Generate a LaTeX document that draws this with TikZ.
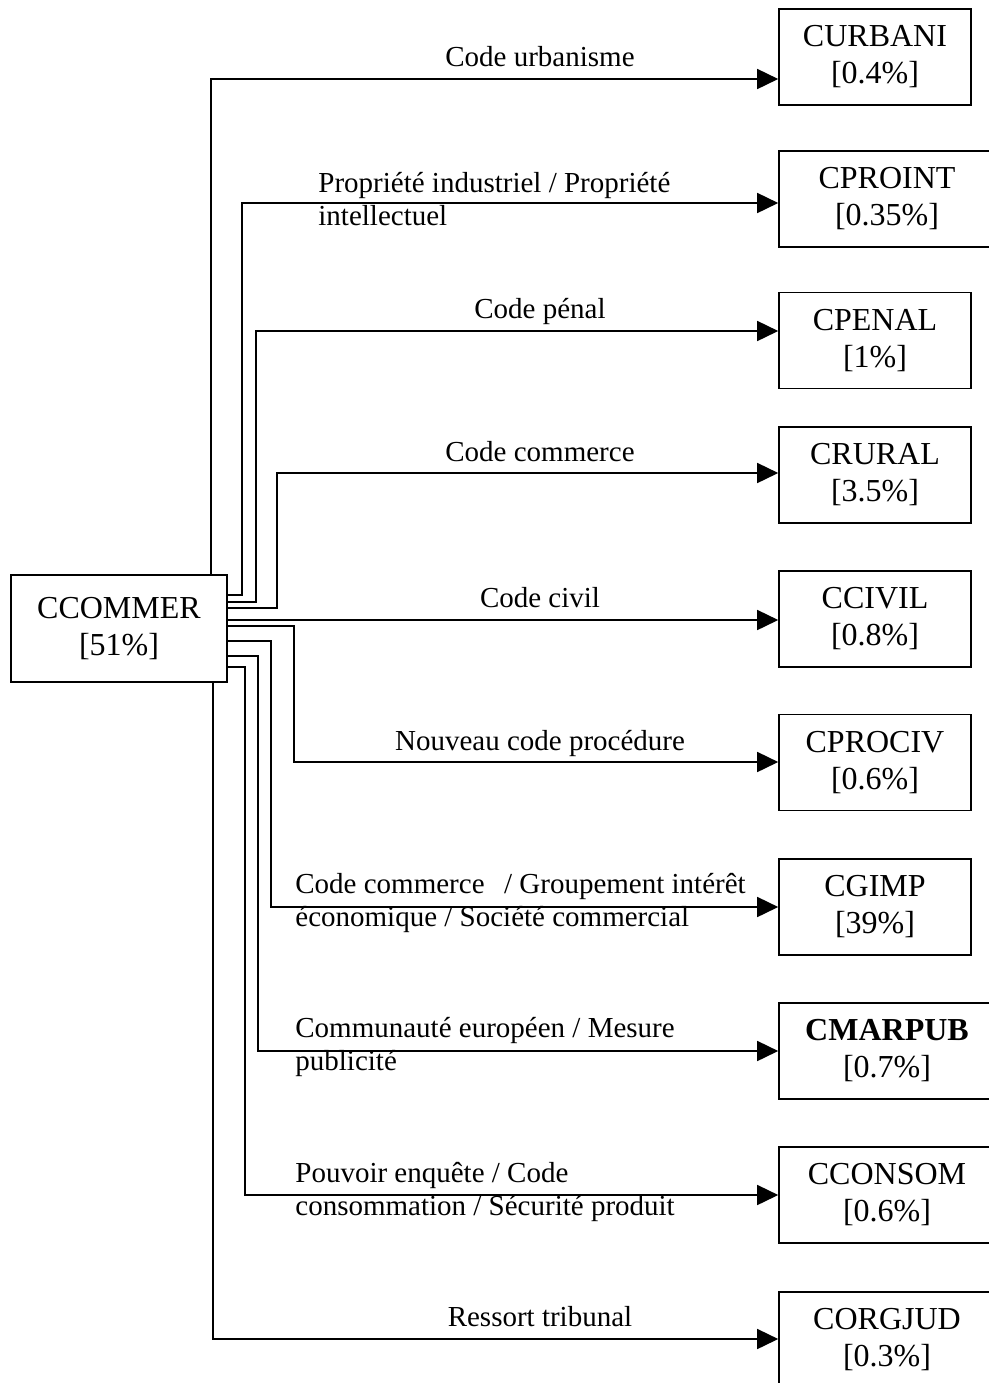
\documentclass[tikz,border=0pt]{standalone}
\usepackage{fontspec}
\setmainfont{Liberation Serif}
\usetikzlibrary{arrows.meta}

\newcommand\boxfont{\fontsize{16}{18.5}\selectfont}
\newcommand\labfont{\fontsize{14.5}{16.5}\selectfont}

\tikzset{
  codebox/.style={draw,line width=0.8pt,inner sep=0pt,align=center,
    minimum width=96pt,minimum height=48pt,font=\boxfont},
  widebox/.style={codebox,minimum width=108pt},
  lab/.style={inner sep=0pt,font=\labfont},
  link/.style={->,line width=0.8pt},
}

\begin{document}
\begin{tikzpicture}[x=0.5pt,y=-0.5pt,>={Triangle[length=10.5pt,width=10pt]}]
\fill[white] (0,0) rectangle (989,1383);
\useasboundingbox (0,0) rectangle (989,1383);
\clip (0,0) rectangle (989,1383);

% source code
\node[codebox,minimum width=108pt,minimum height=53.5pt] (CCOMMER) at (119,628.5) {CCOMMER\\{[51\%]}};

% target codes
\node[codebox] (CURBANI) at (875,57) {CURBANI\\{[0.4\%]}};
\node[widebox] (CPROINT) at (887,199) {CPROINT\\{[0.35\%]}};
\node[codebox] (CPENAL) at (875,340.5) {CPENAL\\{[1\%]}};
\node[codebox] (CRURAL) at (875,475) {CRURAL\\{[3.5\%]}};
\node[codebox] (CCIVIL) at (875,619) {CCIVIL\\{[0.8\%]}};
\node[codebox] (CPROCIV) at (875,762.5) {CPROCIV\\{[0.6\%]}};
\node[codebox] (CGIMP) at (875,907) {CGIMP\\{[39\%]}};
\node[widebox] (CMARPUB) at (887,1051) {\textbf{CMARPUB}\\{[0.7\%]}};
\node[widebox] (CCONSOM) at (887,1195) {CCONSOM\\{[0.6\%]}};
\node[widebox] (CORGJUD) at (887,1340) {CORGJUD\\{[0.3\%]}};

% links
\draw[link] (CCOMMER.north -| 211,0) |- (CURBANI.west |- 0,79);
\draw[link] (CCOMMER.east |- 0,595) -| (242,203) -- (CPROINT.west |- 0,203);
\draw[link] (CCOMMER.east |- 0,602) -| (256,331) -- (CPENAL.west |- 0,331);
\draw[link] (CCOMMER.east |- 0,608) -| (277,473) -- (CRURAL.west |- 0,473);
\draw[link] (CCOMMER.east |- 0,620) -- (CCIVIL.west |- 0,620);
\draw[link] (CCOMMER.east |- 0,626) -| (294,762) -- (CPROCIV.west |- 0,762);
\draw[link] (CCOMMER.east |- 0,641) -| (271,907) -- (CGIMP.west |- 0,907);
\draw[link] (CCOMMER.east |- 0,656) -| (258,1051) -- (CMARPUB.west |- 0,1051);
\draw[link] (CCOMMER.east |- 0,667) -| (245,1195) -- (CCONSOM.west |- 0,1195);
\draw[link] (CCOMMER.south -| 213,0) |- (CORGJUD.west |- 0,1339);

% link labels
\node[lab,anchor=base] (lurb) at (540,66) {Code urbanisme};
\node[lab,anchor=west,align=left] (lproi) at (318,199) {Propriété industriel / Propriété\\intellectuel};
\node[lab,anchor=base] (lpen) at (540,318) {Code pénal};
\node[lab,anchor=base] (lrur) at (540,461) {Code commerce};
\node[lab,anchor=base] (lciv) at (540,607) {Code civil};
\node[lab,anchor=base] (lproc) at (540,750) {Nouveau code procédure};
\node[lab,anchor=west,align=left] (lgimp) at (295,903) {Code commerce~~\hspace{2.5pt}/ Groupement intérêt\\économique / Société commercial};
\node[lab,anchor=west,align=left] (lmar) at (295,1047) {Communauté européen / Mesure\\publicité};
\node[lab,anchor=west,align=left] (lcons) at (295,1192) {Pouvoir enquête / Code\\consommation / Sécurité produit};
\node[lab,anchor=base] (lorg) at (540,1326) {Ressort tribunal};
\end{tikzpicture}
\end{document}
